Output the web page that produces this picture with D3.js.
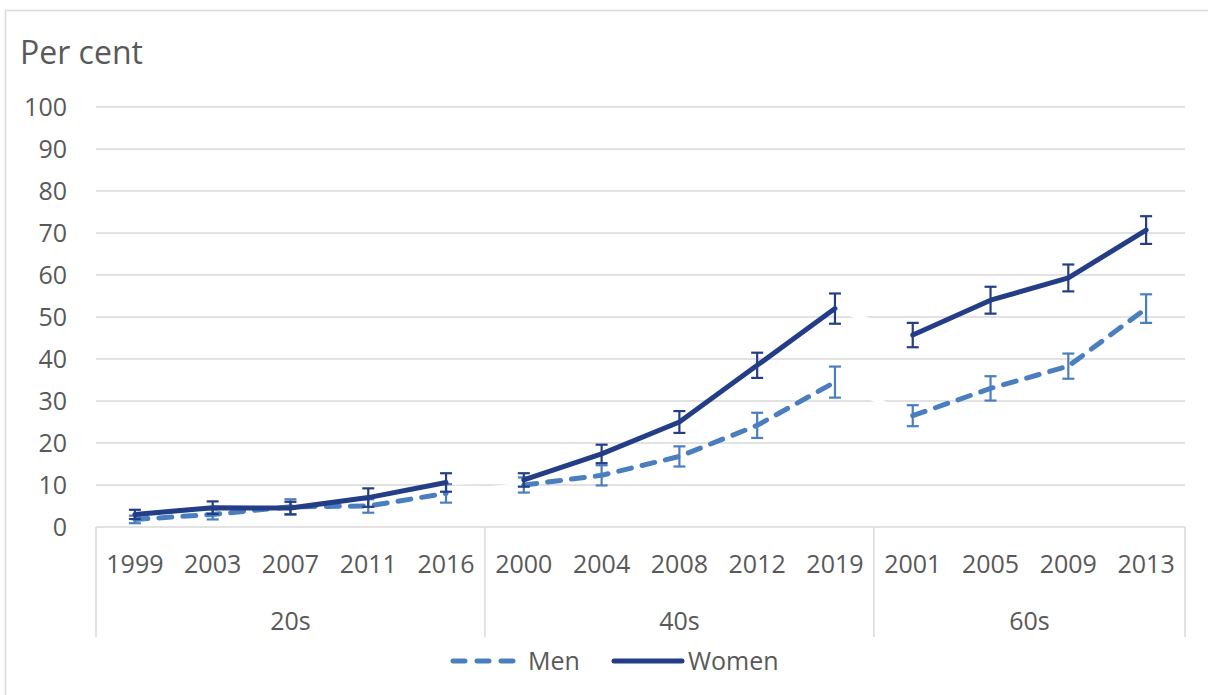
<!DOCTYPE html>
<html>
  <head>
  <title>Per cent by age group</title>
  </head>
  <body>
  <style>
    body, html {
      margin: 0;
      padding: 0;
      background: #fff;
    }
    svg text {
      font-family: "Open Sans", sans-serif;
      fill: #595959;
    }
  </style>

  <svg id="svg" width="1208" height="695"></svg>

  <script src="https://cdn.jsdelivr.net/npm/d3@7"></script>
  <script>
    // age groups and the survey years inside each
    const groups = ['20s', '40s', '60s']
    const years = [
      ['1999', '2003', '2007', '2011', '2016'],
      ['2000', '2004', '2008', '2012', '2019'],
      ['2001', '2005', '2009', '2013']
    ]

    // values per group (per cent) and half-width of error bars
    const women = [
      [3.0, 4.6, 4.5, 7.0, 10.6],
      [11.2, 17.4, 25, 38.5, 52],
      [45.7, 54, 59.3, 70.7]
    ]
    const womenErr = [
      [1.1, 1.5, 1.5, 2.2, 2.2],
      [1.6, 2.2, 2.6, 3.0, 3.6],
      [2.9, 3.2, 3.2, 3.3]
    ]
    const men = [
      [1.8, 3, 4.8, 5, 8],
      [10, 12.3, 16.8, 24.2, 34.5],
      [26.5, 33, 38.3, 52]
    ]
    const menErr = [
      [0.9, 1.2, 1.8, 1.6, 2.2],
      [1.8, 2.4, 2.4, 3.0, 3.7],
      [2.5, 2.9, 3.0, 3.4]
    ]
    const yTicks = [0, 10, 20, 30, 40, 50, 60, 70, 80, 90, 100]

    const menColor = '#4a7ebf'
    const womenColor = '#233e86'
    const gridColor = '#d9d9d9'

    const svg = d3.select('#svg')

    // outer chart border
    svg.append('rect')
      .attr('x', 5.5).attr('y', 10.5)
      .attr('width', 1220).attr('height', 700)
      .attr('fill', 'none')
      .attr('stroke', gridColor)
      .attr('stroke-width', 1.5)

    const keys = []
    groups.forEach((g, gi) => years[gi].forEach(y => keys.push(g + '-' + y)))

    const xScale = d3.scaleBand()
      .domain(keys)
      .range([96, 1185])
      .padding(0)
    const cx = k => xScale(k) + xScale.bandwidth() / 2

    const yScale = d3.scaleLinear()
      .domain([0, 100])
      .range([527, 107])

    // gridlines
    svg.append('g')
      .selectAll('line')
      .data(yTicks.filter(d => d > 0))
      .join('line')
      .attr('x1', 96).attr('x2', 1185)
      .attr('y1', d => yScale(d)).attr('y2', d => yScale(d))
      .attr('stroke', gridColor)
      .attr('stroke-width', 1.5)

    // y tick labels
    svg.append('g')
      .selectAll('text')
      .data(yTicks)
      .join('text')
      .attr('x', 67)
      .attr('y', d => yScale(d))
      .attr('dy', '0.36em')
      .attr('text-anchor', 'end')
      .attr('font-size', 25)
      .text(d => d)

    svg.append('text')
      .attr('x', 20).attr('y', 64)
      .attr('font-size', 32)
      .text('Per cent')

    // category axis line and group separators
    svg.append('line')
      .attr('x1', 96).attr('x2', 1185)
      .attr('y1', yScale(0)).attr('y2', yScale(0))
      .attr('stroke', gridColor)
      .attr('stroke-width', 1.5)

    const bounds = [xScale(keys[0])]
    groups.forEach((g, gi) => {
      const last = g + '-' + years[gi][years[gi].length - 1]
      bounds.push(xScale(last) + xScale.bandwidth())
    })
    svg.append('g')
      .selectAll('line')
      .data(bounds)
      .join('line')
      .attr('x1', d => d).attr('x2', d => d)
      .attr('y1', yScale(0)).attr('y2', 637)
      .attr('stroke', gridColor)
      .attr('stroke-width', 1.5)

    svg.append('g')
      .selectAll('text')
      .data(keys)
      .join('text')
      .attr('x', d => cx(d))
      .attr('y', 573)
      .attr('text-anchor', 'middle')
      .attr('font-size', 25)
      .text(d => d.split('-')[1])

    svg.append('g')
      .selectAll('text')
      .data(groups)
      .join('text')
      .attr('x', (d, i) => (bounds[i] + bounds[i + 1]) / 2)
      .attr('y', 630)
      .attr('text-anchor', 'middle')
      .attr('font-size', 25)
      .text(d => d)

    // build point lists
    function points(vals, errs) {
      return groups.map((g, gi) => years[gi].map((y, i) => ({
        key: g + '-' + y, v: vals[gi][i], e: errs[gi][i]
      })))
    }
    const menPts = points(men, menErr)
    const womenPts = points(women, womenErr)

    const linegen = d3.line()
      .x(d => cx(d.key))
      .y(d => yScale(d.v))

    // white joins between groups (hide the gridlines like the original)
    function joins(pts) {
      const out = []
      for (let i = 0; i < pts.length - 1; i++) {
        out.push([pts[i][pts[i].length - 1], pts[i + 1][0]])
      }
      return out
    }
    svg.append('g')
      .selectAll('path')
      .data(joins(menPts).concat(joins(womenPts)))
      .join('path')
      .attr('d', d => linegen(d))
      .attr('stroke', '#fff')
      .attr('stroke-width', 5)
      .attr('fill', 'none')

    function drawSeries(pts, color, dashed) {
      const g = svg.append('g')
      pts.forEach(seg => {
        g.append('path')
          .attr('d', linegen(seg))
          .attr('stroke', color)
          .attr('stroke-width', 5)
          .attr('fill', 'none')
          .attr('stroke-linecap', 'round')
          .attr('stroke-linejoin', 'round')
          .attr('stroke-dasharray', dashed ? '13,11' : null)
      })
      const all = pts.flat()
      const eb = g.append('g')
        .attr('stroke', color)
        .attr('stroke-width', 2.2)
      eb.selectAll('.v').data(all).join('line')
        .attr('x1', d => cx(d.key)).attr('x2', d => cx(d.key))
        .attr('y1', d => yScale(d.v - d.e)).attr('y2', d => yScale(d.v + d.e))
      eb.selectAll('.t').data(all).join('line')
        .attr('x1', d => cx(d.key) - 6).attr('x2', d => cx(d.key) + 6)
        .attr('y1', d => yScale(d.v + d.e)).attr('y2', d => yScale(d.v + d.e))
      eb.selectAll('.b').data(all).join('line')
        .attr('x1', d => cx(d.key) - 6).attr('x2', d => cx(d.key) + 6)
        .attr('y1', d => yScale(d.v - d.e)).attr('y2', d => yScale(d.v - d.e))
    }
    drawSeries(menPts, menColor, true)
    drawSeries(womenPts, womenColor, false)

    // legend
    const lg = svg.append('g')
    lg.append('line')
      .attr('x1', 453).attr('x2', 515).attr('y1', 661).attr('y2', 661)
      .attr('stroke', menColor).attr('stroke-width', 5)
      .attr('stroke-linecap', 'round')
      .attr('stroke-dasharray', '12,12')
    lg.append('text')
      .attr('x', 528).attr('y', 661).attr('dy', '0.36em')
      .attr('font-size', 25).text('Men')
    lg.append('line')
      .attr('x1', 614).attr('x2', 682).attr('y1', 661).attr('y2', 661)
      .attr('stroke', womenColor).attr('stroke-width', 5)
      .attr('stroke-linecap', 'round')
    lg.append('text')
      .attr('x', 688).attr('y', 661).attr('dy', '0.36em')
      .attr('font-size', 25).text('Women')
  </script>
  </body>
</html>
